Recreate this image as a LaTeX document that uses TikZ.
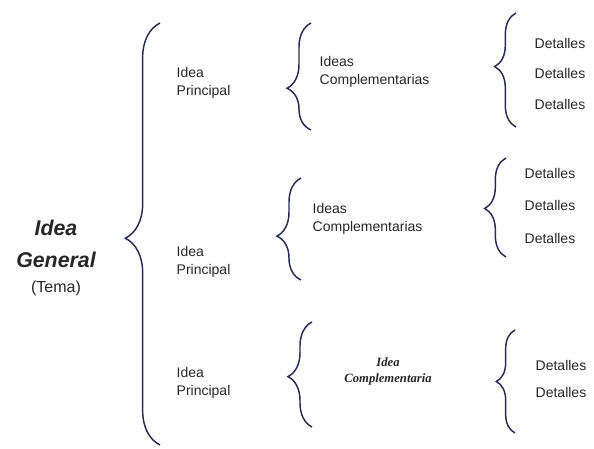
\documentclass[tikz,border=0pt]{standalone}
\usepackage{fontspec}
\setmainfont{Liberation Sans}
\newfontfamily\serifbi{Liberation Serif}
\usetikzlibrary{decorations.pathreplacing}
\definecolor{llavecol}{HTML}{2A2A55}
\definecolor{tinta}{HTML}{262626}
\begin{document}
\begin{tikzpicture}[x=0.75pt,y=-0.75pt,
    llave/.style n args={2}{draw=llavecol,line width=1.1pt,decorate,
      decoration={brace,amplitude=#1,aspect=#2}},
    idea/.style={anchor=west,align=left,text=tinta,font=\fontsize{10.5}{14}\selectfont},
    detalle/.style={anchor=west,text=tinta,font=\fontsize{10.5}{14}\selectfont}]
  \useasboundingbox (0,0) rectangle (594,449);
  \node[align=center,text=tinta,font=\fontsize{16}{24}\selectfont\bfseries\itshape]
    (gen) at (56,258) {Idea\\General\\[-5pt]{\mdseries\upshape\fontsize{12}{14}\selectfont(Tema)}};
  \node[idea] (p1) at (172,83) {Idea\\Principal};
  \node[idea] (p2) at (172,262) {Idea\\Principal};
  \node[idea] (p3) at (172,383) {Idea\\Principal};
  \node[idea] (c1) at (315,72) {Ideas\\Complementarias};
  \node[idea] (c2) at (308,219) {Ideas\\Complementarias};
  \node[align=center,text=tinta,font=\serifbi\fontsize{9.5}{12}\selectfont\bfseries\itshape]
    (c3) at (388,371) {Idea\\Complementaria};
  \node[detalle] (d11) at (530,43) {Detalles};
  \node[detalle] (d12) at (530,73) {Detalles};
  \node[detalle] (d13) at (530,104) {Detalles};
  \node[detalle] (d21) at (520,173) {Detalles};
  \node[detalle] (d22) at (520,205) {Detalles};
  \node[detalle] (d23) at (520,238) {Detalles};
  \node[detalle] (d31) at (531,365) {Detalles};
  \node[detalle] (d32) at (531,392) {Detalles};
  \coordinate (g0) at (160,445);
  \coordinate (g1) at (160,23);
  \coordinate (a0) at (311,130);
  \coordinate (a1) at (311,23);
  \coordinate (b0) at (301,280);
  \coordinate (b1) at (301,178);
  \coordinate (e0) at (312,427);
  \coordinate (e1) at (312,322);
  \coordinate (h0) at (516,127);
  \coordinate (h1) at (516,13);
  \coordinate (k0) at (506,257);
  \coordinate (k1) at (506,158);
  \coordinate (m0) at (515,433);
  \coordinate (m1) at (515,330);
  \draw[llave={26}{.49}] (g0) -- (g1);
  \draw[llave={18}{.39}] (a0) -- (a1);
  \draw[llave={18}{.43}] (b0) -- (b1);
  \draw[llave={18}{.48}] (e0) -- (e1);
  \draw[llave={16}{.53}] (h0) -- (h1);
  \draw[llave={16}{.49}] (k0) -- (k1);
  \draw[llave={14}{.50}] (m0) -- (m1);
\end{tikzpicture}
\end{document}
